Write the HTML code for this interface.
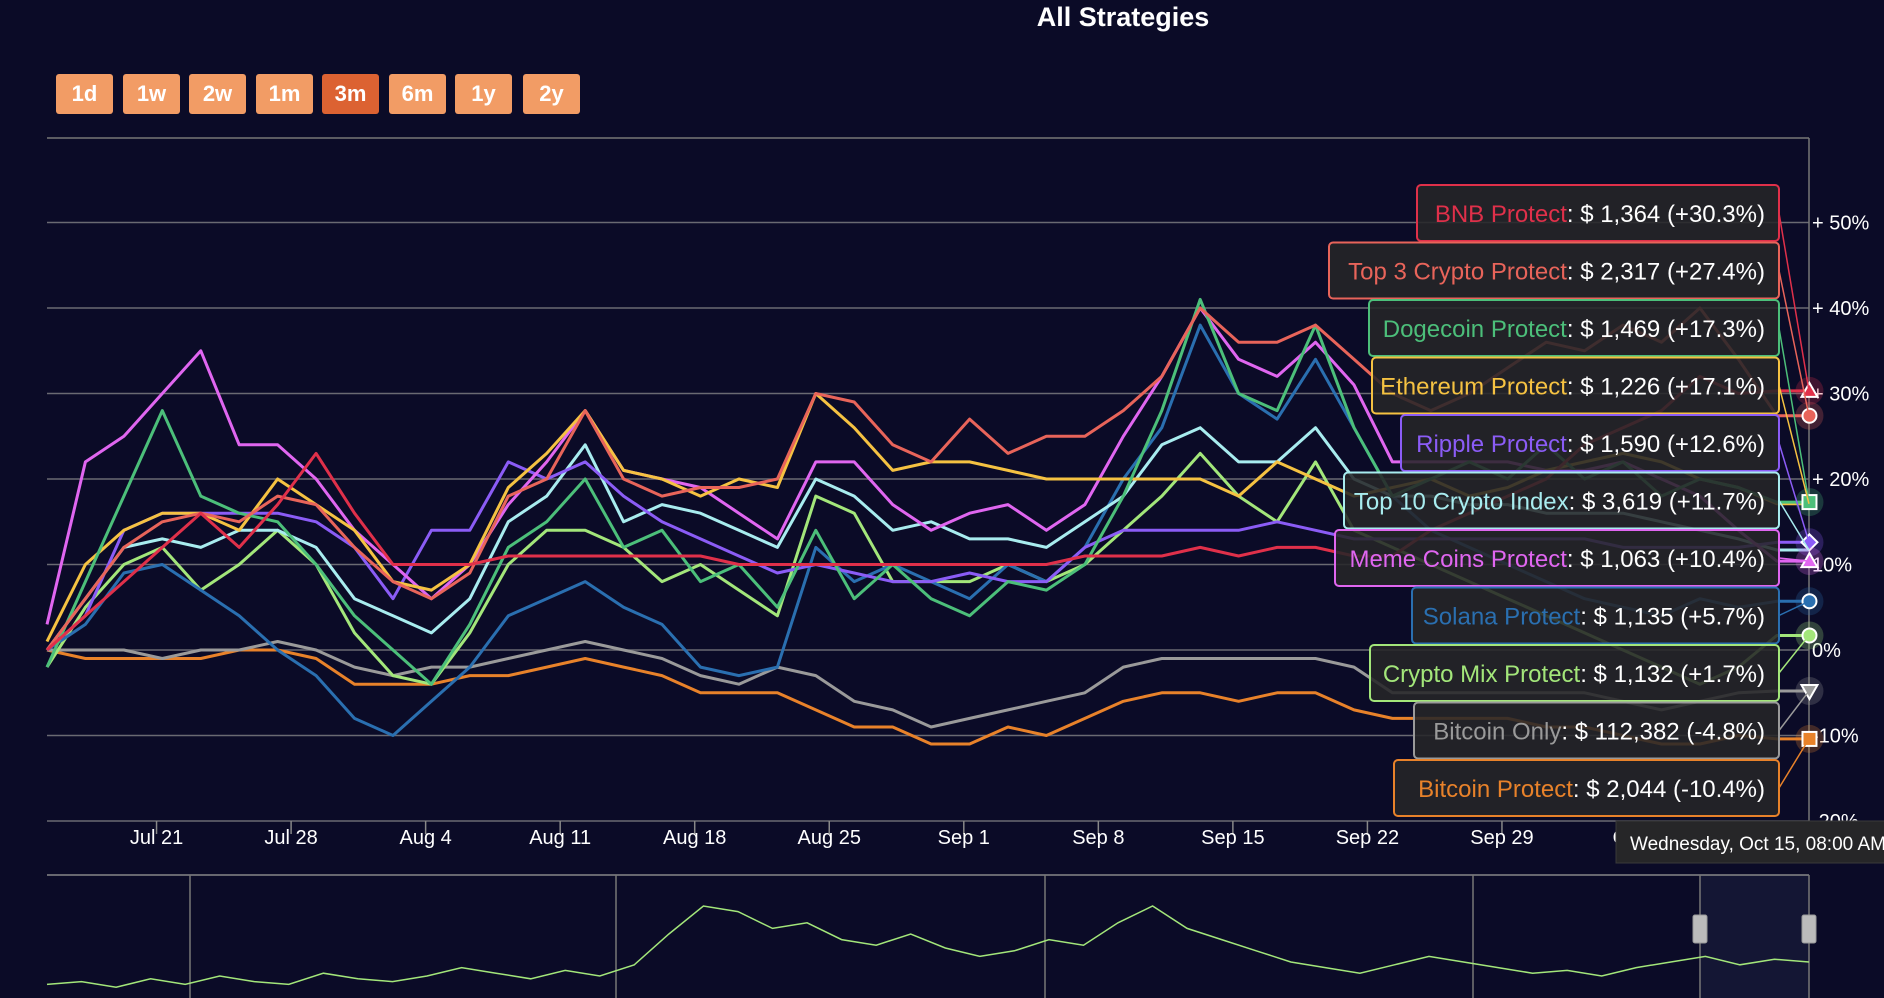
<!DOCTYPE html>
<html><head><meta charset="utf-8">
<style>
html,body{margin:0;padding:0;background:#0b0b27;width:1884px;height:998px;overflow:hidden;font-family:"Liberation Sans",sans-serif;}
svg{position:absolute;left:0;top:0;}
.btn{position:absolute;top:74px;width:57px;height:40px;background:#f29c65;border-radius:3px;color:#fff;font-size:22px;font-weight:bold;text-align:center;line-height:40px;}
.btn.active{background:#dc6232;}
</style></head>
<body>
<div style="position:absolute;left:0;width:2246px;top:2px;text-align:center;color:#fff;font-size:27px;font-weight:bold;">All Strategies</div>
<div class="btn" style="left:56px">1d</div>
<div class="btn" style="left:123px">1w</div>
<div class="btn" style="left:189px">2w</div>
<div class="btn" style="left:256px">1m</div>
<div class="btn active" style="left:322px">3m</div>
<div class="btn" style="left:389px">6m</div>
<div class="btn" style="left:455px">1y</div>
<div class="btn" style="left:523px">2y</div>
<svg id="chart" width="1884" height="998"></svg>
<script>
const days = [];
for (let k = 0; k <= 45; k++) days.push(k * 2);
days.push(91.7);
const bnb = [0,4,8,12,16,12,17,23,16,10,10,10,11,11,11,11,11,11,10,10,10,10,10,10,10,10,10,11,11,11,12,11,12,12,11,11,14,16,18,20,24,26,28,32,30,30.3,30.3];
const top3 = [0,6,12,15,16,15,18,17,12,8,6,9,18,20,28,20,18,19,19,20,30,29,24,22,27,23,25,25,28,32,40,36,36,38,34,30,28,30,33,36,35,38,36,40,34,27.4,27.4];
const doge = [-2,8,18,28,18,16,15,10,4,0,-4,3,12,15,20,12,14,8,10,5,14,6,10,6,4,8,7,10,18,28,41,30,28,38,26,18,20,22,20,24,20,22,18,20,19,17.3,17.3];
const eth = [1,10,14,16,16,14,20,17,14,8,7,10,19,23,28,21,20,18,20,19,30,26,21,22,22,21,20,20,20,20,20,18,22,20,18,19,20,18,19,21,22,23,22,20,19,17.1,17.1];
const ripple = [0,4,14,16,16,16,16,15,12,6,14,14,22,20,22,18,15,13,11,9,10,9,8,8,9,8,8,12,14,14,14,14,15,14,13,13,13,13,13,13,13,12,12,12,12,12.6,12.6];
const top10 = [0,6,12,13,12,14,14,12,6,4,2,6,15,18,24,15,17,16,14,12,20,18,14,15,13,13,12,15,18,24,26,22,22,26,20,18,18,17,17,16,16,16,15,14,13,11.7,11.7];
const meme = [3,22,25,30,35,24,24,20,14,10,6,10,17,22,28,21,20,19,16,13,22,22,17,14,16,17,14,17,25,32,40,34,32,36,31,22,22,22,22,21,21,22,20,18,14,10.4,10.4];
const solana = [0,3,9,10,7,4,0,-3,-8,-10,-6,-2,4,6,8,5,3,-2,-3,-2,12,8,10,8,6,10,8,12,20,26,38,30,27,34,26,18,14,12,10,8,6,5,4,6,5,5.7,5.7];
const mix = [-2,5,10,12,7,10,14,10,2,-3,-4,2,10,14,14,12,8,10,7,4,18,16,8,8,8,10,8,10,14,18,23,18,15,22,14,12,10,8,6,4,2,0,-2,-4,-2,1.7,1.7];
const btcOnly = [0,0,0,-1,0,0,1,0,-2,-3,-2,-2,-1,0,1,0,-1,-3,-4,-2,-3,-6,-7,-9,-8,-7,-6,-5,-2,-1,-1,-1,-1,-1,-2,-5,-5,-5,-5,-5,-5,-6,-7,-6,-5,-4.8,-4.8];
const btcProt = [0,-1,-1,-1,-1,0,0,-1,-4,-4,-4,-3,-3,-2,-1,-2,-3,-5,-5,-5,-7,-9,-9,-11,-11,-9,-10,-8,-6,-5,-5,-6,-5,-5,-7,-8,-8,-8,-8,-9,-9,-10,-11,-11,-10,-10.4,-10.4];
const yTicks = [50,40,30,20,10,0,-10,-20];
const yTickLabels = ["+ 50%","+ 40%","+ 30%","+ 20%","10%","0%","-10%","-20%"];
const xTickDays = [5.7,12.7,19.7,26.7,33.7,40.7,47.7,54.7,61.7,68.7,75.7,82.7,89.7];
const xTickLabels = ["Jul 21","Jul 28","Aug 4","Aug 11","Aug 18","Aug 25","Sep 1","Sep 8","Sep 15","Sep 22","Sep 29","Oct 6","Oct 13"];
const labelNames = ["BNB Protect","Top 3 Crypto Protect","Dogecoin Protect","Ethereum Protect","Ripple Protect","Top 10 Crypto Index","Meme Coins Protect","Solana Protect","Crypto Mix Protect","Bitcoin Only","Bitcoin Protect"];
const labelValues = ["$ 1,364 (+30.3%)","$ 2,317 (+27.4%)","$ 1,469 (+17.3%)","$ 1,226 (+17.1%)","$ 1,590 (+12.6%)","$ 3,619 (+11.7%)","$ 1,063 (+10.4%)","$ 1,135 (+5.7%)","$ 1,132 (+1.7%)","$ 112,382 (-4.8%)","$ 2,044 (-10.4%)"];
const navValues = [2,3,1,4,2,5,3,2,6,4,3,5,8,6,4,7,5,9,20,30,28,22,24,18,16,20,15,12,14,18,16,24,30,22,18,14,10,8,6,9,12,10,8,6,7,5,8,10,12,9,11,10];

const NS = "http://www.w3.org/2000/svg";
const svg = document.getElementById('chart');
const L = 47, R = 1809;
const xS = d => L + d * 19.22;
const yS = v => 650 - v * 8.55;
function mk(tag, attrs, parent) {
  const e = document.createElementNS(NS, tag);
  for (const k in attrs) e.setAttribute(k, attrs[k]);
  (parent || svg).appendChild(e);
  return e;
}
let e = mk('line', {x1:L, x2:R, y1:138, y2:138, stroke:'#777', 'stroke-width':1.5});


yTicks.forEach((v, i) => {
  const g = mk('line', {x1:L, x2:R, y1:yS(v), y2:yS(v), stroke:'#6a6a72', 'stroke-width':1.5});
  
  
  const t = mk('text', {x:1812, y:yS(v) + 7, fill:'#fff', 'font-size':20, 'font-family':'Liberation Sans'});
  t.textContent = yTickLabels[i];
  
  
});
e = mk('line', {x1:R, x2:R, y1:138, y2:821, stroke:'#777', 'stroke-width':1.5});


xTickDays.forEach((d, i) => {
  const tk = mk('line', {x1:xS(d), x2:xS(d), y1:821, y2:834, stroke:'#888', 'stroke-width':1.5});
  
  
  const t = mk('text', {x:xS(d), y:844, fill:'#fff', 'font-size':20, 'text-anchor':'middle', 'font-family':'Liberation Sans'});
  t.textContent = xTickLabels[i];
  
  
});
const series = [
  {n:'btc-protect', d:btcProt, c:'#e8822a', m:'square'},
  {n:'bitcoin-only', d:btcOnly, c:'#9a9a9a', m:'tridown'},
  {n:'crypto-mix', d:mix, c:'#a3e67a', m:'circle'},
  {n:'solana', d:solana, c:'#2a6fb0', m:'circle'},
  {n:'top10', d:top10, c:'#a8ecef', m:'none'},
  {n:'ripple', d:ripple, c:'#8b5cf6', m:'diamond'},
  {n:'meme-coins', d:meme, c:'#e066f0', m:'triangle'},
  {n:'ethereum', d:eth, c:'#f5c242', m:'none'},
  {n:'dogecoin', d:doge, c:'#4cbf7a', m:'square'},
  {n:'top3', d:top3, c:'#e8645a', m:'circle'},
  {n:'bnb', d:bnb, c:'#e0304a', m:'triangle'}
];
series.forEach(s => {
  const pts = s.d.map((v, i) => xS(days[i]).toFixed(1) + ',' + yS(v).toFixed(1)).join(' ');
  const p = mk('polyline', {points:pts, fill:'none', stroke:s.c, 'stroke-width':3, 'stroke-linejoin':'round'});
  
  
});
series.forEach(s => {
  if (s.m === 'none') return;
  const v = s.d[s.d.length - 1], x = xS(days[days.length - 1]), y = yS(v);
  const h = mk('circle', {cx:x, cy:y, r:14, fill:s.c, opacity:0.25});
  
  
  let m;
  if (s.m === 'circle') m = mk('circle', {cx:x, cy:y, r:7, fill:s.c, stroke:'#fff', 'stroke-width':2});
  else if (s.m === 'square') m = mk('rect', {x:x-7, y:y-7, width:14, height:14, fill:s.c, stroke:'#fff', 'stroke-width':2});
  else if (s.m === 'diamond') m = mk('polygon', {points:`${x},${y-8} ${x+8},${y} ${x},${y+8} ${x-8},${y}`, fill:s.c, stroke:'#fff', 'stroke-width':2});
  else if (s.m === 'triangle') m = mk('polygon', {points:`${x},${y-8} ${x+8},${y+6} ${x-8},${y+6}`, fill:s.c, stroke:'#fff', 'stroke-width':2});
  else m = mk('polygon', {points:`${x},${y+8} ${x+8},${y-6} ${x-8},${y-6}`, fill:s.c, stroke:'#fff', 'stroke-width':2});
  
  
});
const boxColors = ['#e0304a','#e8645a','#4cbf7a','#f5c242','#8b5cf6','#a8ecef','#e066f0','#2a6fb0','#a3e67a','#9a9a9a','#e8822a'];
const boxLeft = [1417,1329,1369,1372,1401,1344,1335,1412,1370,1414,1394];
const boxFinal = [bnb, top3, doge, eth, ripple, top10, meme, solana, mix, btcOnly, btcProt];
labelNames.forEach((nm, i) => {
  const top = 185 + i * 57.5, right = 1779;
  const fv = boxFinal[i][boxFinal[i].length - 1];
  const cl = mk('line', {x1:right, y1:top + 28, x2:R, y2:yS(fv), stroke:boxColors[i], 'stroke-width':1.5});
  
  
  const r = mk('rect', {x:boxLeft[i], y:top, width:right - boxLeft[i], height:56, rx:4, fill:'rgba(38,38,40,0.88)', stroke:boxColors[i], 'stroke-width':2});
  
  
  const t = mk('text', {x:right - 14, y:top + 37, 'text-anchor':'end', 'font-size':24, 'font-family':'Liberation Sans', fill:'#fff'});
  const a = mk('tspan', {fill:boxColors[i]}, t); a.textContent = nm;
  const b = mk('tspan', {}, t); b.textContent = ': ' + labelValues[i];
  
  
});
e = mk('rect', {x:1616, y:821, width:280, height:42, fill:'#262628', stroke:'#3a3a3a'});


e = mk('text', {x:1630, y:850, fill:'#fff', 'font-size':19, 'font-family':'Liberation Sans'});
e.textContent = 'Wednesday, Oct 15, 08:00 AM';


e = mk('rect', {x:1700, y:875, width:109, height:123, fill:'#141634'});


e = mk('line', {x1:L, x2:R, y1:875, y2:875, stroke:'#888', 'stroke-width':1.5});


[190, 616, 1045, 1473, 1700, 1809].forEach(x => {
  const l = mk('line', {x1:x, x2:x, y1:875, y2:998, stroke:'#777', 'stroke-width':1.5});
  
  
});
const navPts = navValues.map((v, i) => (L + i * (R - L) / (navValues.length - 1)).toFixed(1) + ',' + (990 - v * 2.8).toFixed(1)).join(' ');
e = mk('polyline', {points:navPts, fill:'none', stroke:'#a3e67a', 'stroke-width':1.5});


[1700, 1809].forEach(x => {
  const h = mk('rect', {x:x-7, y:915, width:14, height:28, rx:2, fill:'#bbb', stroke:'#999'});
  
  
});
</script>
</body></html>
